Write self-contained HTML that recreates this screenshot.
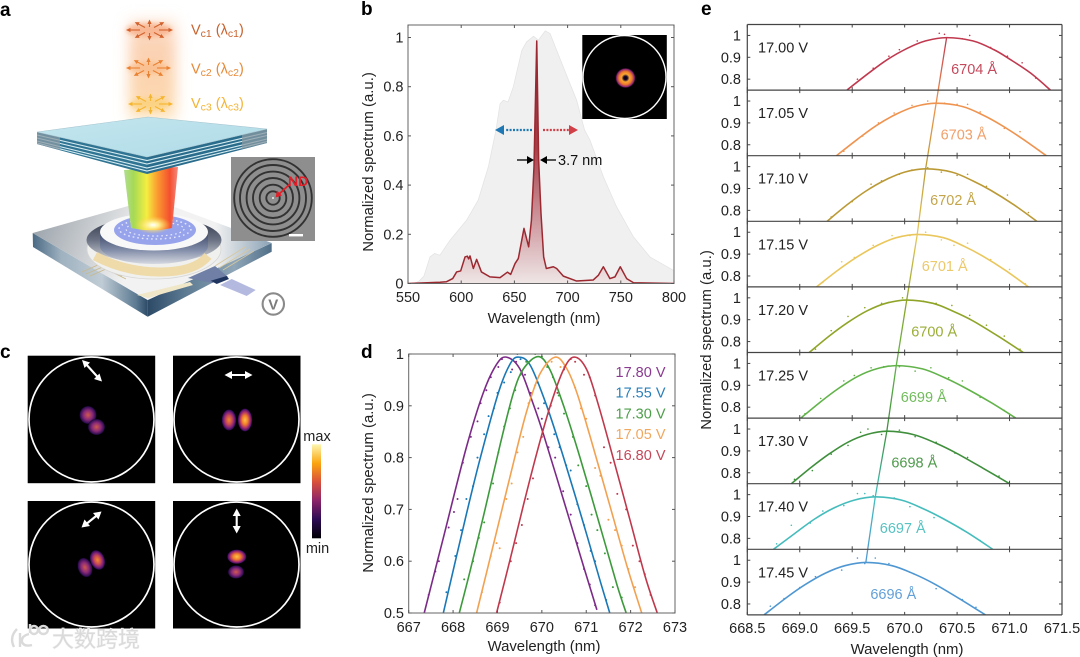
<!DOCTYPE html>
<html lang="en">
<head>
<meta charset="utf-8">
<title>Tunable vortex laser figure</title>
<style>
html,body{margin:0;padding:0;background:#fff;}
#figure{position:absolute;left:0;top:0;display:block;filter:blur(0.35px);}
text{font-family:"Liberation Sans","Noto Sans CJK SC",sans-serif;fill:#222;}
.letter{font-size:19px;font-weight:bold;fill:#000;}
.axis{font-size:14.5px;}
.title{font-size:14.9px;}
</style>
</head>
<body>
<svg id="figure" xmlns="http://www.w3.org/2000/svg" width="1080" height="657" viewBox="0 0 1080 657">
<defs>
<filter id="blur8" x="-50%" y="-30%" width="200%" height="160%"><feGaussianBlur stdDeviation="7"/></filter>
<filter id="blur3" x="-50%" y="-100%" width="200%" height="300%"><feGaussianBlur stdDeviation="2.5"/></filter>
<linearGradient id="glowGrad" x1="0" y1="0" x2="0" y2="1"><stop offset="0" stop-color="#fbd0b0" stop-opacity=".5"/><stop offset=".25" stop-color="#fbd2b4"/><stop offset=".75" stop-color="#fcd6ae"/><stop offset="1" stop-color="#fde6c0"/></linearGradient>
<linearGradient id="rainbow" x1="0" y1="0" x2="1" y2="0"><stop offset="0" stop-color="#b0dc90"/><stop offset=".18" stop-color="#a6da55"/><stop offset=".42" stop-color="#f4ee40"/><stop offset=".62" stop-color="#fb9a30"/><stop offset=".85" stop-color="#f4502f"/><stop offset="1" stop-color="#f28a80"/></linearGradient>
<linearGradient id="baseTop" gradientUnits="userSpaceOnUse" x1="32" y1="225" x2="130" y2="265"><stop offset="0" stop-color="#9aa2aa"/><stop offset="1" stop-color="#f2f2f2"/></linearGradient>
<linearGradient id="baseCorner" gradientUnits="userSpaceOnUse" x1="215" y1="0" x2="272" y2="0"><stop offset="0" stop-color="#7f99ae" stop-opacity="0"/><stop offset="1" stop-color="#7f99ae" stop-opacity=".9"/></linearGradient>
<linearGradient id="baseLeft" x1="0" y1="0" x2="1" y2="0"><stop offset="0" stop-color="#4a6a84"/><stop offset=".25" stop-color="#9fb2c0"/><stop offset=".6" stop-color="#c0ccd5"/><stop offset=".9" stop-color="#5c7a92"/><stop offset="1" stop-color="#2c4a66"/></linearGradient>
<linearGradient id="baseRight" x1="0" y1="0" x2="1" y2="0"><stop offset="0" stop-color="#2c4a66"/><stop offset=".3" stop-color="#5c7a92"/><stop offset=".7" stop-color="#8fa6b8"/><stop offset="1" stop-color="#506f88"/></linearGradient>
<linearGradient id="holeGrad" x1="0" y1="0" x2="0" y2="1"><stop offset="0" stop-color="#2a3242"/><stop offset=".5" stop-color="#6a7284"/><stop offset="1" stop-color="#dcdde0"/></linearGradient>
<linearGradient id="pillarGrad" x1="0" y1="0" x2="0" y2="1"><stop offset="0" stop-color="#3a4566"/><stop offset=".55" stop-color="#7f8aa6"/><stop offset="1" stop-color="#d4d8e0"/></linearGradient>
<linearGradient id="plateTop" x1="0" y1="0" x2="1" y2="1"><stop offset="0" stop-color="#c4e6ef"/><stop offset="1" stop-color="#aedbe7"/></linearGradient>
<radialGradient id="glare"><stop offset="0" stop-color="#fff"/><stop offset=".3" stop-color="#fff39a"/><stop offset="1" stop-color="#ffd040" stop-opacity="0"/></radialGradient>
<radialGradient id="blobHot"><stop offset="0" stop-color="#fdc04a"/><stop offset=".38" stop-color="#f0802a"/><stop offset=".68" stop-color="#a92d6a"/><stop offset=".9" stop-color="#44106a"/><stop offset="1" stop-color="#000" stop-opacity="0"/></radialGradient>
<radialGradient id="blobMid"><stop offset="0" stop-color="#ef8a2e"/><stop offset=".42" stop-color="#c84a52"/><stop offset=".72" stop-color="#7a1f7a"/><stop offset=".92" stop-color="#2c0c50"/><stop offset="1" stop-color="#000" stop-opacity="0"/></radialGradient>
<radialGradient id="blobDim"><stop offset="0" stop-color="#cf5a4c"/><stop offset=".5" stop-color="#8a2a78"/><stop offset=".88" stop-color="#2c0c50"/><stop offset="1" stop-color="#000" stop-opacity="0"/></radialGradient>
<radialGradient id="donut"><stop offset="0" stop-color="#000"/><stop offset=".18" stop-color="#1a0830"/><stop offset=".38" stop-color="#f8a833"/><stop offset=".62" stop-color="#ee7a2a"/><stop offset=".85" stop-color="#8a2378"/><stop offset="1" stop-color="#000" stop-opacity="0"/></radialGradient>
<linearGradient id="cbar" x1="0" y1="1" x2="0" y2="0"><stop offset="0" stop-color="#000004"/><stop offset=".2" stop-color="#2c0b54"/><stop offset=".4" stop-color="#8a2369"/><stop offset=".6" stop-color="#d9503b"/><stop offset=".8" stop-color="#fba50f"/><stop offset="1" stop-color="#fcf7b0"/></linearGradient>
<linearGradient id="specFill" gradientUnits="userSpaceOnUse" x1="0" y1="283.5" x2="0" y2="37"><stop offset="0" stop-color="#efe6e6"/><stop offset=".25" stop-color="#cf9aa0"/><stop offset=".55" stop-color="#a5404a"/><stop offset="1" stop-color="#8f1f2a"/></linearGradient>
<marker id="headOut" markerUnits="userSpaceOnUse" markerWidth="5" markerHeight="5" refX="2.5" refY="2.5" orient="auto"><path d="M0,0.4 L4.5,2.5 L0,4.6 Z" fill="context-stroke"/></marker>
<clipPath id="clipB"><rect x="408" y="25" width="266" height="258.5"/></clipPath>
<clipPath id="clipD"><rect x="408.7" y="354" width="266.3" height="259"/></clipPath>
<clipPath id="clipSem"><rect x="231" y="157" width="84" height="84"/></clipPath>
</defs>

<!-- panel letters -->
<text class="letter" x="0" y="16">a</text>
<text class="letter" x="361" y="15">b</text>
<text class="letter" x="0" y="358">c</text>
<text class="letter" x="361" y="358">d</text>
<text class="letter" x="701" y="15">e</text>

<!-- panel a: schematic -->
<g>
  <rect x="129" y="20" width="47" height="100" fill="url(#glowGrad)" filter="url(#blur8)"/>
  <ellipse cx="149" cy="30" rx="23" ry="7" fill="#f7a67c" opacity=".7" filter="url(#blur3)"/>
  <ellipse cx="148" cy="68" rx="20" ry="6" fill="#f9b27a" opacity=".6" filter="url(#blur3)"/>
  <ellipse cx="150" cy="104" rx="20" ry="6" fill="#fbcf70" opacity=".7" filter="url(#blur3)"/>
  <g stroke="#d2622e" fill="none" stroke-width="1.1">
    <line x1="140" y1="30" x2="128" y2="30" marker-end="url(#headOut)"/><line x1="159" y1="30" x2="171" y2="30" marker-end="url(#headOut)"/>
    <line x1="149.5" y1="27" x2="149.5" y2="21.5" marker-end="url(#headOut)"/><line x1="149.5" y1="33" x2="149.5" y2="38.5" marker-end="url(#headOut)"/>
    <line x1="145" y1="27.5" x2="136.5" y2="23" marker-end="url(#headOut)"/><line x1="154" y1="27.5" x2="162.5" y2="23" marker-end="url(#headOut)"/>
    <line x1="145" y1="32.5" x2="136.5" y2="37" marker-end="url(#headOut)"/><line x1="154" y1="32.5" x2="162.5" y2="37" marker-end="url(#headOut)"/>
  </g>
  <g stroke="#ea8232" fill="none" stroke-width="1.1">
    <line x1="140" y1="68" x2="128" y2="68" marker-end="url(#headOut)"/><line x1="157" y1="68" x2="169" y2="68" marker-end="url(#headOut)"/>
    <line x1="148.5" y1="65" x2="148.5" y2="59.5" marker-end="url(#headOut)"/><line x1="148.5" y1="71" x2="148.5" y2="76.5" marker-end="url(#headOut)"/>
    <line x1="144" y1="65.5" x2="135.5" y2="61" marker-end="url(#headOut)"/><line x1="153" y1="65.5" x2="161.5" y2="61" marker-end="url(#headOut)"/>
    <line x1="144" y1="70.5" x2="135.5" y2="75" marker-end="url(#headOut)"/><line x1="153" y1="70.5" x2="161.5" y2="75" marker-end="url(#headOut)"/>
  </g>
  <g stroke="#f6b52e" fill="none" stroke-width="1.1">
    <line x1="142" y1="104" x2="130" y2="104" marker-end="url(#headOut)"/><line x1="159" y1="104" x2="171" y2="104" marker-end="url(#headOut)"/>
    <line x1="150.5" y1="101" x2="150.5" y2="95.5" marker-end="url(#headOut)"/><line x1="150.5" y1="107" x2="150.5" y2="112.5" marker-end="url(#headOut)"/>
    <line x1="146" y1="101.5" x2="137.5" y2="97" marker-end="url(#headOut)"/><line x1="155" y1="101.5" x2="163.5" y2="97" marker-end="url(#headOut)"/>
    <line x1="146" y1="106.5" x2="137.5" y2="111" marker-end="url(#headOut)"/><line x1="155" y1="106.5" x2="163.5" y2="111" marker-end="url(#headOut)"/>
  </g>
  <text x="191" y="34.5" font-size="14.5" style="fill:#c9622e">V<tspan font-size="10.5" dy="2.5">c1</tspan><tspan dy="-2.5"> (λ</tspan><tspan font-size="10.5" dy="2.5">c1</tspan><tspan dy="-2.5">)</tspan></text>
  <text x="191" y="73.5" font-size="14.5" style="fill:#e88a38">V<tspan font-size="10.5" dy="2.5">c2</tspan><tspan dy="-2.5"> (λ</tspan><tspan font-size="10.5" dy="2.5">c2</tspan><tspan dy="-2.5">)</tspan></text>
  <text x="191" y="108" font-size="14.5" style="fill:#f4b437">V<tspan font-size="10.5" dy="2.5">c3</tspan><tspan dy="-2.5"> (λ</tspan><tspan font-size="10.5" dy="2.5">c3</tspan><tspan dy="-2.5">)</tspan></text>

  <!-- base chip -->
  <polygon points="32.7,233 147.7,300 147.7,316.7 33,247" fill="url(#baseLeft)"/>
  <polygon points="147.7,300 271.7,243 271.7,251.7 147.7,316.7" fill="url(#baseRight)"/>
  <polygon points="32.7,233 153,199 271.7,243 147.7,300" fill="url(#baseTop)"/>
  <polygon points="153,199 271.7,243 147.7,300" fill="url(#baseCorner)"/>
  <polygon points="137,295 190,282 193,285 148,298" fill="#f0e6c8"/>
  <path d="M82,272 L100,264 L118,274 M86,274 L104,266.5 L122,276 M90,276 L106,269 L126,279" stroke="#c9b98c" stroke-width=".8" fill="none"/>
  <path d="M215,266 L245,247 M219,268 L250,249 M223,270 L254,251" stroke="#d8c79a" stroke-width=".8" fill="none"/>
  <ellipse cx="154" cy="249" rx="67" ry="30" fill="#f0f0ee" stroke="#d6d6d6" stroke-width=".8"/>
  <ellipse cx="154" cy="240" rx="67.5" ry="23" fill="url(#holeGrad)"/>
  <path d="M95,256 Q125,272 160,272 Q195,272 208,256" stroke="#efdaa9" stroke-width="9" fill="none"/>
  <path d="M100,232 L100,246 A54,18 0 0 0 208,246 L208,232 Z" fill="url(#pillarGrad)"/>
  <ellipse cx="154" cy="232" rx="54" ry="18.5" fill="#f8f8f8"/>
  <ellipse cx="155" cy="230" rx="41" ry="15" fill="#97a4ec"/>
  <ellipse cx="155" cy="229" rx="36" ry="10" fill="none" stroke="#e6e9fb" stroke-width="1.4" stroke-dasharray="1.6 3"/>
  <ellipse cx="155" cy="229" rx="29" ry="7" fill="none" stroke="#e6e9fb" stroke-width="1.2" stroke-dasharray="1.6 3"/>
  <polygon points="124,170 178,167 172,228 160,230 143,230 131,228" fill="url(#rainbow)"/>
  <ellipse cx="153" cy="225" rx="18" ry="9" fill="url(#glare)"/>
  <!-- connector -->
  <polygon points="220,285 231.7,279 255.7,290 246.7,296" fill="#b4b9e0"/>
  <polygon points="188,278 215,266 228,277 212,283" fill="#6f7fa5"/>
  <polygon points="210.7,280.7 226.7,276 229,279 216.7,284" fill="#1f3560"/>
  <!-- mirror stack -->
  <polygon points="37,132 147,157 147,174 37,144" fill="#2f7493"/>
  <polygon points="147,157 267,129 267,143 147,174" fill="#2a6c8c"/>
  <path d="M37,135 L147,160.5 L267,132.5 M37,138 L147,164 L267,135.5 M37,141 L147,168 L267,139 M37,143 L147,171 L267,141.5" stroke="#d6ecf1" stroke-width="1.1" fill="none"/>
  <polygon points="37,132 60,137 60,150 37,144" fill="#8a9aa3" opacity=".75"/>
  <polygon points="267,129 242,135 242,149 267,143" fill="#8a9aa3" opacity=".75"/>
  <polygon points="37,132 148,117 267,129 147,157" fill="url(#plateTop)" stroke="#a8c6d0" stroke-width=".6"/>
  <!-- SEM inset -->
  <g clip-path="url(#clipSem)">
    <rect x="231" y="157" width="84" height="84" fill="#8e8e8e"/>
    <g fill="none" stroke="#323232" stroke-width="1.9">
      <circle cx="273" cy="198" r="6.7"/>
      <circle cx="273" cy="198" r="13.3"/>
      <circle cx="273" cy="198" r="20"/>
      <circle cx="273" cy="198" r="26.4"/>
      <circle cx="273" cy="198" r="33"/>
      <circle cx="273" cy="198" r="38.8"/>
    </g>
    <circle cx="273" cy="198" r="1" fill="#eee"/>
    <rect x="289" y="234" width="14" height="2.4" fill="#fff"/>
    <line x1="290" y1="184" x2="278" y2="195" stroke="#e2202a" stroke-width="1.8"/>
    <polygon points="275.5,197.5 277,190.5 282,195.5" fill="#e2202a"/>
  </g>
  <text x="288" y="186" font-size="14" font-weight="bold" style="fill:#e2202a">ND</text>
  <circle cx="273.3" cy="304" r="10.7" fill="#fff" stroke="#8a8a8a" stroke-width="2.1"/>
  <text x="273.3" y="309.3" font-size="15" text-anchor="middle" font-weight="bold" style="fill:#7c7c7c">V</text>
</g>

<!-- panel b static parts -->
<text class="title" transform="translate(373,162) rotate(-90)" text-anchor="middle">Normalized spectrum (a.u.)</text>
<text class="title" x="544" y="323" text-anchor="middle">Wavelength (nm)</text>
<g id="panelB"></g>
<g>
  <rect x="582.3" y="35" width="84.5" height="84" fill="#000"/>
  <circle cx="624.5" cy="77" r="41.5" fill="none" stroke="#fff" stroke-width="1.4"/>
  <circle cx="625.5" cy="78" r="10.5" fill="url(#donut)"/>
</g>
<g>
  <line x1="532" y1="130" x2="505" y2="130" stroke="#1f78b4" stroke-width="2.2" stroke-dasharray="2 1.4"/>
  <polygon points="495,130 504,125 504,135" fill="#1f78b4"/>
  <line x1="543" y1="130" x2="569" y2="130" stroke="#cf4049" stroke-width="2.2" stroke-dasharray="2 1.4"/>
  <polygon points="578,130 569,125 569,135" fill="#cf4049"/>
  <line x1="517" y1="160" x2="531" y2="160" stroke="#000" stroke-width="1.3"/>
  <polygon points="534,160 527,156 527,164" fill="#000"/>
  <line x1="556" y1="160" x2="543" y2="160" stroke="#000" stroke-width="1.3"/>
  <polygon points="540,160 547,156 547,164" fill="#000"/>
  <text class="axis" x="558" y="165" style="fill:#111">3.7 nm</text>
</g>

<!-- panel c -->
<g>
  <rect x="27.7" y="355.7" width="127.5" height="127.5" fill="#000"/>
  <circle cx="91.5" cy="419.5" r="62.5" fill="none" stroke="#fff" stroke-width="1.7"/>
  <ellipse cx="88" cy="415" rx="9" ry="9.5" fill="url(#blobDim)"/>
  <ellipse cx="96.5" cy="427" rx="9" ry="8.5" fill="url(#blobDim)"/>
  <rect x="173" y="355.7" width="127.5" height="127.5" fill="#000"/>
  <circle cx="236.5" cy="419.5" r="62.5" fill="none" stroke="#fff" stroke-width="1.7"/>
  <ellipse cx="229" cy="420" rx="7.5" ry="11" fill="url(#blobMid)"/>
  <ellipse cx="245" cy="420" rx="7.5" ry="12" fill="url(#blobHot)"/>
  <rect x="27.7" y="501" width="127.5" height="127.5" fill="#000"/>
  <circle cx="91.5" cy="564.5" r="62.5" fill="none" stroke="#fff" stroke-width="1.7"/>
  <ellipse cx="85" cy="567.5" rx="7.5" ry="10.5" fill="url(#blobDim)" transform="rotate(-20 85 567.5)"/>
  <ellipse cx="97.5" cy="560" rx="7.5" ry="10.5" fill="url(#blobMid)" transform="rotate(-20 97.5 560)"/>
  <rect x="173" y="501" width="127.5" height="127.5" fill="#000"/>
  <circle cx="236.5" cy="564.5" r="62.5" fill="none" stroke="#fff" stroke-width="1.7"/>
  <ellipse cx="236.8" cy="556.7" rx="10" ry="7.5" fill="url(#blobHot)"/>
  <ellipse cx="236" cy="572" rx="8.5" ry="7" fill="url(#blobDim)"/>
  <g stroke="#fff" stroke-width="2.1" fill="#fff">
    <line x1="85" y1="363" x2="99" y2="378.5"/>
    <polygon points="82,360 90,362.5 84.5,368" stroke="none"/>
    <polygon points="102,381.5 94,379 99.5,373.5" stroke="none"/>
    <line x1="228" y1="375" x2="249" y2="375"/>
    <polygon points="224.5,375 232,371 232,379" stroke="none"/>
    <polygon points="252.5,375 245,371 245,379" stroke="none"/>
    <line x1="85" y1="525" x2="98" y2="514.5"/>
    <polygon points="81.5,527.5 84.5,519.5 90,526" stroke="none"/>
    <polygon points="101.5,511.5 98.5,519.5 93,513" stroke="none"/>
    <line x1="236.7" y1="512" x2="236.7" y2="530"/>
    <polygon points="236.7,508.5 232.7,516 240.7,516" stroke="none"/>
    <polygon points="236.7,533.5 232.7,526 240.7,526" stroke="none"/>
  </g>
  <rect x="312" y="444.3" width="9" height="94" fill="url(#cbar)"/>
  <text class="axis" x="317" y="441" text-anchor="middle">max</text>
  <text class="axis" x="317.5" y="553" text-anchor="middle">min</text>
</g>

<!-- panel d static parts -->
<text class="title" transform="translate(373,483) rotate(-90)" text-anchor="middle">Normalized spectrum (a.u.)</text>
<text class="title" x="544" y="651" text-anchor="middle">Wavelength (nm)</text>
<g id="panelD"></g>

<!-- panel e -->
<text class="title" transform="translate(711,340) rotate(-90)" text-anchor="middle">Normalized spectrum (a.u.)</text>
<text class="title" x="907" y="654" text-anchor="middle">Wavelength (nm)</text>
<g id="panelE"></g>

<!-- watermark -->
<g>
  <path d="M17,629 Q9,637 14,647 M20,633 L20,647 M29,634 Q21,636 22,642 Q24,647 32,645 M30,624 L30,633 M30,630 a4,4 0 1 0 8,0 a4,4 0 1 0 -8,0 M39,630 a4.4,4 0 1 0 8.8,0 a4.4,4 0 1 0 -8.8,0" fill="none" stroke="#dadada" stroke-width="2.4"/>
  <text x="52" y="647" font-size="22" style="fill:#dadada;paint-order:stroke;stroke:#f4f4f4;stroke-width:1px;font-family:'Noto Sans CJK SC','WenQuanYi Zen Hei',sans-serif;">大数跨境</text>
</g>
</svg>

<script>
/* ---------- panel b data ---------- */
const bXTicks = [550, 600, 650, 700, 750, 800];
const bYTicks = [0, 0.2, 0.4, 0.6, 0.8, 1];
const bYTickLabels = ['0', '0.2', '0.4', '0.6', '0.8', '1'];
const bEnvelopeWavelengths = [555, 560, 565, 570.7, 575, 580, 589.5, 605, 616, 625.5, 632.7, 636.5, 639.6, 644, 649, 657, 661.5, 668, 672.5, 679, 683.5, 689.7, 699, 708.5, 716, 721, 733.6, 746, 761.8, 777.4, 800];
const bEnvelopeValues = [0, 0.008, 0.03, 0.108, 0.122, 0.115, 0.176, 0.257, 0.339, 0.474, 0.623, 0.73, 0.745, 0.738, 0.8, 0.948, 0.982, 1.005, 0.989, 1.027, 1.016, 0.948, 0.847, 0.745, 0.623, 0.583, 0.434, 0.312, 0.19, 0.108, 0.052];
const bSpectrumWavelengths = [550, 580, 586, 592, 595.7, 599.5, 603.6, 605.8, 607, 608.3, 611.4, 614.5, 619, 627, 636.5, 643.4, 646.5, 650.6, 653.7, 659, 663.4, 666, 668.4, 671, 672.8, 675, 677.5, 680, 686.6, 689.7, 696, 708.5, 724, 729, 733.6, 739.8, 744.5, 749.5, 755.5, 762, 800];
const bSpectrumValues = [0, 0.005, 0.007, 0.02, 0.047, 0.051, 0.108, 0.111, 0.1, 0.112, 0.061, 0.098, 0.047, 0.027, 0.024, 0.046, 0.037, 0.081, 0.102, 0.224, 0.149, 0.257, 0.474, 0.986, 0.5, 0.285, 0.108, 0.061, 0.068, 0.061, 0.03, 0.01, 0.014, 0.034, 0.068, 0.02, 0.027, 0.068, 0.02, 0.003, 0];

/* ---------- panel d data ---------- */
const dXTicks = [667, 668, 669, 670, 671, 672, 673];
const dYTicks = [0.5, 0.6, 0.7, 0.8, 0.9, 1];
const dYTickLabels = ['0.5', '0.6', '0.7', '0.8', '0.9', '1'];
const dSeriesLabels = ['17.80 V', '17.55 V', '17.30 V', '17.05 V', '16.80 V'];
const dLineColors = ['#7c2a88', '#1a78b6', '#3d9a3c', '#f2a150', '#c0384c'];
const dLabelColors = ['#8a3a90', '#2a7fb8', '#4e9e4a', '#f0a75e', '#c4485a'];
const dCurveWavelengths = [
  [667.35, 667.78, 668.3, 668.68, 668.98, 669.2, 669.5, 669.8, 670.04, 670.5, 670.94, 671.24],
  [667.78, 668.27, 668.6, 669.02, 669.28, 669.47, 669.74, 670.11, 670.49, 670.94, 671.32, 671.53],
  [668.14, 668.38, 668.72, 669.06, 669.36, 669.59, 669.92, 670.18, 670.49, 670.86, 671.31, 671.69, 671.9],
  [668.53, 668.76, 669.06, 669.36, 669.66, 669.96, 670.3, 670.56, 670.79, 671.09, 671.54, 671.92, 672.25],
  [668.98, 669.29, 669.59, 669.89, 670.19, 670.49, 670.73, 671.01, 671.28, 671.62, 672, 672.33, 672.6]
];
const dCurveValues = [
  [0.5, 0.645, 0.82, 0.925, 0.98, 0.994, 0.972, 0.905, 0.844, 0.715, 0.59, 0.506],
  [0.5, 0.68, 0.795, 0.925, 0.98, 0.994, 0.978, 0.9, 0.8, 0.672, 0.56, 0.5],
  [0.5, 0.58, 0.7, 0.825, 0.925, 0.972, 0.995, 0.97, 0.9, 0.8, 0.668, 0.555, 0.5],
  [0.5, 0.58, 0.685, 0.79, 0.89, 0.962, 0.994, 0.972, 0.925, 0.84, 0.705, 0.59, 0.5],
  [0.5, 0.605, 0.71, 0.81, 0.9, 0.97, 0.994, 0.97, 0.9, 0.795, 0.675, 0.57, 0.5]
];
const dDotWavelengths = [
  [667.45, 667.6, 667.68, 667.9, 668.02, 668.1, 668.22, 668.4, 668.55, 668.62, 668.75, 668.85, 669.02, 669.1, 669.33, 669.42, 669.55, 669.62, 669.75, 669.92, 670, 670.15, 670.3, 670.48, 670.65, 670.8, 670.95, 671.08, 671.2],
  [667.85, 668.05, 668.18, 668.3, 668.45, 668.55, 668.7, 668.8, 668.92, 669, 669.15, 669.3, 669.45, 669.52, 669.65, 669.9, 670.05, 670.15, 670.28, 670.4, 670.55, 670.65, 670.8, 670.95, 671.1, 671.2, 671.45],
  [668.25, 668.45, 668.58, 668.7, 668.9, 669.02, 669.15, 669.28, 669.4, 669.52, 669.65, 669.85, 670, 670.12, 670.25, 670.38, 670.5, 670.7, 670.82, 671, 671.12, 671.25, 671.42, 671.6, 671.8],
  [668.65, 668.85, 668.98, 669.05, 669.2, 669.32, 669.45, 669.58, 669.7, 669.85, 670.1, 670.22, 670.3, 670.42, 670.5, 670.75, 670.88, 671, 671.2, 671.32, 671.5, 671.65, 671.8, 671.95, 672.1],
  [669.05, 669.3, 669.42, 669.55, 669.68, 669.8, 670, 670.2, 670.35, 670.5, 670.65, 670.75, 670.95, 671.08, 671.2, 671.4, 671.55, 671.7, 671.9, 672.05, 672.2, 672.32, 672.45]
];
const dDotValues = [
  [0.535, 0.58, 0.6, 0.665, 0.695, 0.72, 0.79, 0.84, 0.87, 0.905, 0.93, 0.955, 0.975, 0.99, 0.97, 0.985, 0.965, 0.96, 0.925, 0.895, 0.875, 0.82, 0.8, 0.735, 0.69, 0.635, 0.585, 0.555, 0.515],
  [0.54, 0.61, 0.66, 0.72, 0.745, 0.8, 0.845, 0.88, 0.895, 0.925, 0.945, 0.965, 1, 0.99, 0.985, 0.945, 0.905, 0.885, 0.845, 0.82, 0.785, 0.775, 0.71, 0.67, 0.62, 0.6, 0.525],
  [0.565, 0.6, 0.645, 0.675, 0.75, 0.81, 0.86, 0.895, 0.93, 0.96, 0.985, 1, 0.995, 0.975, 0.955, 0.92, 0.885, 0.84, 0.785, 0.745, 0.69, 0.66, 0.615, 0.55, 0.53],
  [0.54, 0.61, 0.635, 0.625, 0.72, 0.75, 0.81, 0.84, 0.905, 0.94, 0.98, 0.985, 1, 0.975, 0.975, 0.935, 0.895, 0.875, 0.78, 0.765, 0.68, 0.66, 0.63, 0.585, 0.55],
  [0.52, 0.6, 0.635, 0.67, 0.72, 0.76, 0.84, 0.9, 0.925, 0.97, 0.99, 0.985, 0.96, 0.955, 0.92, 0.82, 0.79, 0.73, 0.7, 0.63, 0.6, 0.575, 0.535]
];

/* ---------- panel e data ---------- */
const eXTicks = [668.5, 669, 669.5, 670, 670.5, 671, 671.5];
const eXTickLabels = ['668.5', '669.0', '669.5', '670.0', '670.5', '671.0', '671.5'];
const eYTicks = [0.8, 0.9, 1];
const eYTickLabels = ['0.8', '0.9', '1'];
const eVoltageLabels = ['17.00 V', '17.05 V', '17.10 V', '17.15 V', '17.20 V', '17.25 V', '17.30 V', '17.40 V', '17.45 V'];
const ePeakLabels = ['6704 Å', '6703 Å', '6702 Å', '6701 Å', '6700 Å', '6699 Å', '6698 Å', '6697 Å', '6696 Å'];
const eLineColors = ['#c0394f', '#ef9450', '#bb9a36', '#eac75c', '#8fa528', '#62b34a', '#3f8f3c', '#45bcbc', '#4f97d2'];
const eLabelColors = ['#c44a5c', '#f0a06a', '#c4a54a', '#ecc96a', '#9aae36', '#72bc5c', '#4e9a4a', '#56c2c2', '#62a0d8'];
const ePeakWavelengths = [670.4, 670.3, 670.2, 670.12, 670.02, 669.92, 669.83, 669.72, 669.63];
const ePeakValues = [0.99, 0.99, 0.99, 0.99, 0.99, 0.99, 0.99, 0.99, 0.99];
const eCurveWavelengths = [
  [669.45, 669.65, 669.83, 670.02, 670.2, 670.4, 670.65, 670.85, 671, 671.2, 671.39],
  [669.35, 669.55, 669.73, 669.92, 670.1, 670.3, 670.55, 670.75, 670.92, 671.13, 671.35],
  [669.26, 669.45, 669.63, 669.82, 670, 670.2, 670.45, 670.65, 670.82, 671.04, 671.26],
  [669.16, 669.36, 669.55, 669.74, 669.92, 670.12, 670.37, 670.57, 670.74, 670.96, 671.18],
  [669.09, 669.28, 669.46, 669.64, 669.82, 670.02, 670.27, 670.47, 670.65, 670.89, 671.13],
  [669.01, 669.2, 669.37, 669.55, 669.73, 669.92, 670.17, 670.38, 670.57, 670.82, 671.06],
  [668.92, 669.11, 669.28, 669.46, 669.64, 669.83, 670.08, 670.3, 670.5, 670.75, 671],
  [668.75, 668.96, 669.14, 669.33, 669.52, 669.72, 669.97, 670.18, 670.36, 670.6, 670.84],
  [668.66, 668.87, 669.05, 669.24, 669.43, 669.63, 669.88, 670.1, 670.29, 670.53, 670.77]
];
const eCurveValues = [
  [0.75, 0.825, 0.888, 0.94, 0.975, 0.99, 0.975, 0.935, 0.892, 0.828, 0.75],
  [0.75, 0.825, 0.888, 0.94, 0.975, 0.99, 0.975, 0.935, 0.89, 0.825, 0.75],
  [0.75, 0.825, 0.888, 0.94, 0.975, 0.99, 0.975, 0.935, 0.892, 0.826, 0.75],
  [0.75, 0.825, 0.888, 0.94, 0.975, 0.99, 0.975, 0.935, 0.892, 0.826, 0.75],
  [0.75, 0.825, 0.888, 0.94, 0.975, 0.99, 0.975, 0.937, 0.895, 0.825, 0.75],
  [0.75, 0.825, 0.886, 0.94, 0.975, 0.99, 0.975, 0.935, 0.89, 0.822, 0.75],
  [0.75, 0.825, 0.886, 0.94, 0.975, 0.99, 0.975, 0.935, 0.888, 0.82, 0.75],
  [0.75, 0.825, 0.888, 0.94, 0.975, 0.99, 0.975, 0.935, 0.892, 0.826, 0.75],
  [0.75, 0.828, 0.888, 0.94, 0.975, 0.99, 0.975, 0.935, 0.89, 0.822, 0.75]
];
const eDotWavelengths = [
  [669.55, 669.7, 669.85, 669.95, 670.12, 670.33, 670.38, 670.55, 670.62, 670.82, 670.98, 671.12, 671.25],
  [669.42, 669.6, 669.75, 669.9, 670.07, 670.22, 670.38, 670.5, 670.6, 670.72, 670.95, 671.1, 671.28],
  [669.3, 669.5, 669.68, 669.78, 669.95, 670.07, 670.22, 670.35, 670.5, 670.6, 670.78, 670.98, 671.18],
  [669.22, 669.4, 669.52, 669.7, 669.88, 670.05, 670.2, 670.35, 670.47, 670.6, 670.82, 671, 671.15],
  [669.15, 669.3, 669.46, 669.62, 669.78, 669.98, 670.18, 670.3, 670.45, 670.62, 670.78, 670.95, 671.1],
  [669.05, 669.2, 669.42, 669.52, 669.68, 669.8, 669.95, 670.1, 670.25, 670.42, 670.55, 670.72, 670.95],
  [668.95, 669.12, 669.3, 669.46, 669.58, 669.65, 669.78, 669.95, 670.1, 670.3, 670.48, 670.6, 670.9],
  [668.78, 668.92, 669.1, 669.22, 669.42, 669.55, 669.62, 669.7, 669.9, 670.05, 670.28, 670.55, 670.72],
  [668.72, 668.85, 669, 669.15, 669.4, 669.55, 669.62, 669.72, 669.85, 670.05, 670.3, 670.55, 670.68]
];
const eDotValues = [
  [0.8, 0.85, 0.905, 0.935, 0.975, 1.01, 1.005, 0.985, 1, 0.945, 0.905, 0.875, 0.805],
  [0.77, 0.84, 0.9, 0.945, 0.98, 1, 0.99, 0.985, 0.985, 0.95, 0.875, 0.86, 0.775],
  [0.77, 0.84, 0.92, 0.935, 0.965, 0.985, 0.995, 0.975, 0.96, 0.965, 0.91, 0.87, 0.79],
  [0.77, 0.865, 0.885, 0.94, 0.985, 0.985, 1, 0.965, 0.94, 0.95, 0.875, 0.83, 0.765],
  [0.765, 0.85, 0.915, 0.955, 0.975, 1, 0.985, 0.975, 0.965, 0.92, 0.875, 0.825, 0.765],
  [0.77, 0.84, 0.92, 0.945, 0.98, 0.985, 0.985, 0.965, 0.98, 0.935, 0.92, 0.845, 0.785],
  [0.77, 0.81, 0.885, 0.925, 0.985, 1, 0.975, 0.995, 0.965, 0.94, 0.89, 0.87, 0.785],
  [0.775, 0.86, 0.87, 0.925, 0.95, 1.005, 1.005, 0.995, 0.985, 0.945, 0.895, 0.84, 0.79],
  [0.79, 0.825, 0.875, 0.925, 0.955, 1.01, 0.985, 1.01, 0.985, 0.945, 0.87, 0.82, 0.785]
];

/* ---------- helpers ---------- */
const NS = 'http://www.w3.org/2000/svg';
function add(parent, tag, name, attrs, content) {
  const el = document.createElementNS(NS, tag);
  
  
  for (const k in attrs) el.setAttribute(k, attrs[k]);
  if (content !== undefined) el.textContent = content;
  parent.appendChild(el);
  return el;
}
function polyPath(xs, ys, sx, sy) {
  return xs.map((x, i) => (i ? 'L' : 'M') + sx(x).toFixed(2) + ',' + sy(ys[i]).toFixed(2)).join(' ');
}
function smoothPath(xs, ys, sx, sy) {
  const p = xs.map((x, i) => [sx(x), sy(ys[i])]);
  let d = 'M' + p[0][0].toFixed(2) + ',' + p[0][1].toFixed(2);
  for (let i = 0; i < p.length - 1; i++) {
    const a = p[Math.max(i - 1, 0)], b = p[i], c = p[i + 1], e = p[Math.min(i + 2, p.length - 1)];
    d += ' C' + (b[0] + (c[0] - a[0]) / 6).toFixed(2) + ',' + (b[1] + (c[1] - a[1]) / 6).toFixed(2) + ' ' +
         (c[0] - (e[0] - b[0]) / 6).toFixed(2) + ',' + (c[1] - (e[1] - b[1]) / 6).toFixed(2) + ' ' +
         c[0].toFixed(2) + ',' + c[1].toFixed(2);
  }
  return d;
}
function frame(parent, prefix, x0, y0, x1, y1, color, width) {
  add(parent, 'rect', prefix + '-plot-frame', { x: x0, y: y0, width: x1 - x0, height: y1 - y0, fill: 'none', stroke: color, 'stroke-width': width });
}
function tickX(parent, prefix, x, y0, y1, len, color) {
  add(parent, 'line', prefix + '-x-tick-bottom', { x1: x, x2: x, y1: y1, y2: y1 - len, stroke: color, 'stroke-width': 1 });
  add(parent, 'line', prefix + '-x-tick-top', { x1: x, x2: x, y1: y0, y2: y0 + len, stroke: color, 'stroke-width': 1 });
}
function tickY(parent, prefix, y, x0, x1, len, color) {
  add(parent, 'line', prefix + '-y-tick-left', { x1: x0, x2: x0 + len, y1: y, y2: y, stroke: color, 'stroke-width': 1 });
  add(parent, 'line', prefix + '-y-tick-right', { x1: x1, x2: x1 - len, y1: y, y2: y, stroke: color, 'stroke-width': 1 });
}

/* ---------- panel b ---------- */
(function () {
  const g = document.getElementById('panelB');
  const x0 = 408, x1 = 674, top = 25, bottom = 283.5;
  const sx = v => x0 + (v - 550) * (x1 - x0) / 250;
  const sy = v => bottom - v * 246;
  const plot = add(g, 'g', 'b-plot-area', { 'clip-path': 'url(#clipB)' });
  const envelope = polyPath(bEnvelopeWavelengths, bEnvelopeValues, sx, sy) + ' L' + sx(800) + ',' + bottom + ' L' + sx(555) + ',' + bottom + ' Z';
  add(plot, 'path', 'cavity-free-spectrum-area', { d: envelope, fill: '#f0f0f0', stroke: '#e4e4e4', 'stroke-width': 0.8 });
  const spec = polyPath(bSpectrumWavelengths, bSpectrumValues, sx, sy);
  add(plot, 'path', 'laser-spectrum-fill', { d: spec + ' L' + sx(800) + ',' + bottom + ' L' + sx(550) + ',' + bottom + ' Z', fill: 'url(#specFill)' });
  add(plot, 'path', 'laser-spectrum-line', { d: spec, fill: 'none', stroke: '#9c2830', 'stroke-width': 1.5, 'stroke-linejoin': 'round' });
  frame(g, 'b', x0, top, x1, bottom, '#666', 1);
  bXTicks.forEach(t => {
    tickX(g, 'b', sx(t), top, bottom, 3, '#555');
    add(g, 'text', 'b-x-tick-label', { x: sx(t), y: 302, 'text-anchor': 'middle', class: 'axis' }, String(t));
  });
  bYTicks.forEach((t, i) => {
    tickY(g, 'b', sy(t), x0, x1, 3, '#555');
    add(g, 'text', 'b-y-tick-label', { x: 403.5, y: sy(t) + 5, 'text-anchor': 'end', class: 'axis' }, bYTickLabels[i]);
  });
})();

/* ---------- panel d ---------- */
(function () {
  const g = document.getElementById('panelD');
  const x0 = 408.7, x1 = 675, top = 354, bottom = 613;
  const sx = v => x0 + (v - 667) * (x1 - x0) / 6;
  const sy = v => bottom - (v - 0.5) * (bottom - top) / 0.5;
  const plot = add(g, 'g', 'd-plot-area', { 'clip-path': 'url(#clipD)' });
  dCurveWavelengths.forEach((xs, s) => {
    add(plot, 'path', 'd-fit-line', { d: smoothPath(xs, dCurveValues[s], sx, sy), fill: 'none', stroke: dLineColors[s], 'stroke-width': 1.6 });
    dDotWavelengths[s].forEach((w, i) => {
      add(plot, 'circle', 'd-data-point', { cx: sx(w), cy: sy(dDotValues[s][i]), r: 1, fill: dLineColors[s] });
    });
  });
  frame(g, 'd', x0, top, x1, bottom, '#666', 1);
  dXTicks.forEach(t => {
    tickX(g, 'd', sx(t), top, bottom, 3, '#555');
    add(g, 'text', 'd-x-tick-label', { x: sx(t), y: 632, 'text-anchor': 'middle', class: 'axis' }, String(t));
  });
  dYTicks.forEach((t, i) => {
    tickY(g, 'd', sy(t), x0, x1, 3, '#555');
    add(g, 'text', 'd-y-tick-label', { x: 404, y: sy(t) + 5, 'text-anchor': 'end', class: 'axis' }, dYTickLabels[i]);
  });
  dSeriesLabels.forEach((label, i) => {
    add(g, 'text', 'd-legend-entry', { x: 665.5, y: 377 + i * 20.7, 'text-anchor': 'end', class: 'axis', style: 'fill:' + dLabelColors[i] }, label);
  });
})();

/* ---------- panel e ---------- */
(function () {
  const g = document.getElementById('panelE');
  const defs = document.querySelector('#figure defs');
  const x0 = 747.3, x1 = 1062, firstTop = 24.5, rowH = 65.6;
  const sx = v => x0 + (v - 668.5) * (x1 - x0) / 3;
  eVoltageLabels.forEach((label, r) => {
    const top = firstTop + r * rowH, bottom = top + rowH;
    const sy = v => top + (1.05 - v) * rowH / 0.3;
    const clipId = 'clipE' + r;
    const cp = add(defs, 'clipPath', 'e-row-clip', { id: clipId });
    add(cp, 'rect', 'e-row-clip-rect', { x: x0, y: top, width: x1 - x0, height: rowH });
    const plot = add(g, 'g', 'e-row-plot', { 'clip-path': 'url(#' + clipId + ')' });
    add(plot, 'path', 'e-fit-line', { d: smoothPath(eCurveWavelengths[r], eCurveValues[r], sx, sy), fill: 'none', stroke: eLineColors[r], 'stroke-width': 1.6 });
    eDotWavelengths[r].forEach((w, i) => {
      add(plot, 'circle', 'e-data-point', { cx: sx(w), cy: sy(eDotValues[r][i]), r: 0.8, fill: eLineColors[r] });
    });
    eYTicks.forEach((t, i) => {
      tickY(g, 'e', sy(t), x0, x1, 3, '#444');
      add(g, 'text', 'e-y-tick-label', { x: 741, y: sy(t) + 5, 'text-anchor': 'end', class: 'axis' }, eYTickLabels[i]);
    });
    eXTicks.forEach(t => tickX(g, 'e', sx(t), top, bottom, 3, '#444'));
    add(g, 'text', 'e-voltage-label', { x: 758, y: top + 28, class: 'axis', style: 'fill:#222' }, label);
    add(g, 'text', 'e-peak-label', { x: sx(ePeakWavelengths[r]) + 4.5, y: top + 49.5, class: 'axis', style: 'fill:' + eLabelColors[r] }, ePeakLabels[r]);
  });
  /* connecting peak-trace line */
  ePeakWavelengths.forEach((w, r) => {
    const py = firstTop + r * rowH + (1.05 - ePeakValues[r]) * rowH / 0.3;
    if (r < ePeakWavelengths.length - 1) {
      const ny = firstTop + (r + 1) * rowH + (1.05 - ePeakValues[r + 1]) * rowH / 0.3;
      const id = 'peakGrad' + r;
      const lg = add(defs, 'linearGradient', 'e-peak-trace-gradient', { id: id, gradientUnits: 'userSpaceOnUse', x1: 0, x2: 0, y1: py, y2: ny });
      add(lg, 'stop', 'e-peak-trace-stop', { offset: 0, 'stop-color': eLineColors[r] });
      add(lg, 'stop', 'e-peak-trace-stop', { offset: 1, 'stop-color': eLineColors[r + 1] });
      add(g, 'line', 'e-peak-trace-segment', { x1: sx(w), y1: py, x2: sx(ePeakWavelengths[r + 1]), y2: ny, stroke: 'url(#' + id + ')', 'stroke-width': 1.3 });
    }
  });
  for (let r = 0; r <= eVoltageLabels.length; r++) {
    const y = firstTop + r * rowH;
    add(g, 'line', 'e-row-divider', { x1: x0, x2: x1, y1: y, y2: y, stroke: '#444', 'stroke-width': 1.2 });
  }
  add(g, 'line', 'e-left-axis', { x1: x0, x2: x0, y1: firstTop, y2: firstTop + 9 * rowH, stroke: '#444', 'stroke-width': 1.2 });
  add(g, 'line', 'e-right-axis', { x1: x1, x2: x1, y1: firstTop, y2: firstTop + 9 * rowH, stroke: '#444', 'stroke-width': 1.2 });
  eXTicks.forEach((t, i) => {
    add(g, 'text', 'e-x-tick-label', { x: sx(t), y: 633, 'text-anchor': 'middle', class: 'axis' }, eXTickLabels[i]);
  });
})();
</script>
</body>
</html>
